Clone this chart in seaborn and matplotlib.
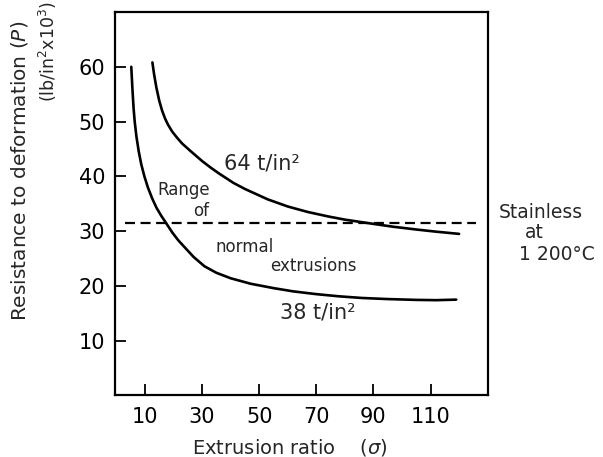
import matplotlib
matplotlib.use("Agg")
import matplotlib.pyplot as plt
import seaborn as sns
import pandas as pd

# Lower curve: 38 t/in^2
x_38 = [5.2, 5.6, 6.0, 6.4, 7.0, 7.8, 8.7, 9.8, 11.0, 12.5, 14.0, 15.7, 17.5, 19.5, 21.7,
        24.0, 27.0, 30.8, 35.0, 40.0, 47.0, 55.0, 62.0, 70.0, 78.0, 86.0, 95.0, 105.0, 112.0, 119.0]
y_38 = [60.0, 56.0, 52.5, 50.0, 47.3, 44.6, 42.2, 40.0, 38.0, 36.0, 34.3, 32.8, 31.4, 29.8, 28.3,
        27.0, 25.3, 23.6, 22.4, 21.4, 20.4, 19.6, 19.0, 18.5, 18.1, 17.8, 17.6, 17.45, 17.4, 17.5]

# Upper curve: 64 t/in^2
x_64 = [12.6, 13.2, 14.0, 15.0, 16.0, 17.0, 18.0, 19.5, 21.0, 23.0, 26.0, 30.0, 33.0, 36.0, 41.0,
        45.0, 53.0, 60.0, 67.0, 74.0, 80.0, 89.0, 97.0, 105.0, 112.0, 120.0]
y_64 = [60.8, 58.6, 56.2, 53.8, 52.0, 50.6, 49.5, 48.2, 47.2, 46.0, 44.6, 42.8, 41.6, 40.5, 38.8,
        37.7, 35.8, 34.5, 33.5, 32.7, 32.1, 31.4, 30.8, 30.3, 29.9, 29.5]

stainless_level = 31.4
stainless_x = [3, 126]

x_ticks = [10, 30, 50, 70, 90, 110]
y_ticks = [10, 20, 30, 40, 50, 60]

sns.set_theme(style="white")
plt.rcParams['font.family'] = ['DejaVu Sans']

fig = plt.figure(figsize=(6.03, 4.57), dpi=100)
ax = fig.add_axes([0.1907, 0.1346, 0.618, 0.8391])

df38 = pd.DataFrame({"x": x_38, "y": y_38})
df64 = pd.DataFrame({"x": x_64, "y": y_64})
sns.lineplot(data=df38, x="x", y="y", ax=ax, color="black", lw=1.9, estimator=None, sort=False)
sns.lineplot(data=df64, x="x", y="y", ax=ax, color="black", lw=1.9, estimator=None, sort=False)
ax.plot(stainless_x, [stainless_level, stainless_level], color="black", lw=1.6,
        linestyle=(0, (4.5, 2.5)))

ax.set_xlim(-0.5, 130)
ax.set_ylim(0, 70)
ax.set_xticks(x_ticks)
ax.set_yticks(y_ticks)
ax.set_xticklabels([str(v) for v in x_ticks], fontsize=15)
ax.set_yticklabels([str(v) for v in y_ticks], fontsize=15)
ax.tick_params(axis="both", direction="in", length=8, width=1.3, color="black",
               labelcolor="black", bottom=True, left=True, top=False, right=False)
ax.tick_params(axis="x", pad=8)
ax.tick_params(axis="y", pad=7)
for s in ax.spines.values():
    s.set_visible(True)
    s.set_color("black")
    s.set_linewidth(1.6)
ax.set_xlabel("")
ax.set_ylabel("")

# Annotations
ax.text(37.8, 42.3, "64 t/in²", fontsize=15, ha="left", va="center")
ax.text(70.5, 15.1, "38 t/in²", fontsize=15, ha="center", va="center")
ax.text(23.4, 37.6, "Range", fontsize=12, ha="center", va="center")
ax.text(29.5, 33.6, "of", fontsize=12, ha="center", va="center")
ax.text(44.8, 27.1, "normal", fontsize=12, ha="center", va="center")
ax.text(68.9, 23.6, "extrusions", fontsize=12, ha="center", va="center")
ax.text(148.6, 33.4, "Stainless", fontsize=13.5, ha="center", va="center", clip_on=False)
ax.text(146.3, 29.7, "at", fontsize=13.5, ha="center", va="center", clip_on=False)
ax.text(154.2, 25.7, "1 200°C", fontsize=13.5, ha="center", va="center", clip_on=False)

# Axis labels
fig.text(290 / 603, 1 - 448 / 457, "Extrusion ratio    ($\\sigma$)",
         fontsize=14, ha="center", va="center")
fig.text(20 / 603, 1 - 171 / 457, "Resistance to deformation ($P$)", fontsize=14.5,
         rotation=90, ha="center", va="center")
fig.text(48 / 603, 1 - 52 / 457, "(lb/in$^2$x10$^3$)", fontsize=12.5,
         rotation=90, ha="center", va="center")

fig.savefig("out.png", dpi=100, facecolor="white")
